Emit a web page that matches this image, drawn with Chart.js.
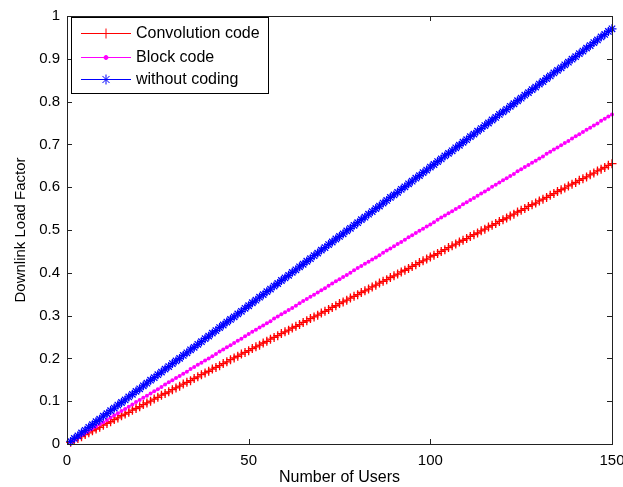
<!DOCTYPE html>
<html>
<head>
<meta charset="utf-8">
<script src="https://cdn.jsdelivr.net/npm/chart.js@4/dist/chart.umd.min.js"></script>
<style>
  body { margin: 0; background: #fff; }
  canvas { display: block; background: #fff; }
</style>
</head>
<body>
<canvas id="chart1" width="623" height="487"></canvas>
<script>
// number of users (x)
const users = [1,2,3,4,5,6,7,8,9,10,11,12,13,14,15,16,17,18,19,20,
  21,22,23,24,25,26,27,28,29,30,31,32,33,34,35,36,37,38,39,40,
  41,42,43,44,45,46,47,48,49,50,51,52,53,54,55,56,57,58,59,60,
  61,62,63,64,65,66,67,68,69,70,71,72,73,74,75,76,77,78,79,80,
  81,82,83,84,85,86,87,88,89,90,91,92,93,94,95,96,97,98,99,100,
  101,102,103,104,105,106,107,108,109,110,111,112,113,114,115,116,117,118,119,120,
  121,122,123,124,125,126,127,128,129,130,131,132,133,134,135,136,137,138,139,140,
  141,142,143,144,145,146,147,148,149,150];

// downlink load factor
const convolutionCode = [0.004,0.009,0.013,0.017,0.022,0.026,0.031,0.035,0.039,0.044,
  0.048,0.052,0.057,0.061,0.066,0.070,0.074,0.079,0.083,0.087,
  0.092,0.096,0.100,0.105,0.109,0.114,0.118,0.122,0.127,0.131,
  0.135,0.140,0.144,0.148,0.153,0.157,0.162,0.166,0.170,0.175,
  0.179,0.183,0.188,0.192,0.197,0.201,0.205,0.210,0.214,0.218,
  0.223,0.227,0.231,0.236,0.240,0.245,0.249,0.253,0.258,0.262,
  0.266,0.271,0.275,0.279,0.284,0.288,0.293,0.297,0.301,0.306,
  0.310,0.314,0.319,0.323,0.328,0.332,0.336,0.341,0.345,0.349,
  0.354,0.358,0.362,0.367,0.371,0.376,0.380,0.384,0.389,0.393,
  0.397,0.402,0.406,0.410,0.415,0.419,0.424,0.428,0.432,0.437,
  0.441,0.445,0.450,0.454,0.459,0.463,0.467,0.472,0.476,0.480,
  0.485,0.489,0.493,0.498,0.502,0.507,0.511,0.515,0.520,0.524,
  0.528,0.533,0.537,0.542,0.546,0.550,0.555,0.559,0.563,0.568,
  0.572,0.576,0.581,0.585,0.590,0.594,0.598,0.603,0.607,0.611,
  0.616,0.620,0.624,0.629,0.633,0.638,0.642,0.646,0.651,0.655];

const blockCode = [0.005,0.010,0.015,0.021,0.026,0.031,0.036,0.041,0.046,0.051,
  0.056,0.062,0.067,0.072,0.077,0.082,0.087,0.092,0.098,0.103,
  0.108,0.113,0.118,0.123,0.128,0.133,0.139,0.144,0.149,0.154,
  0.159,0.164,0.169,0.175,0.180,0.185,0.190,0.195,0.200,0.205,
  0.210,0.216,0.221,0.226,0.231,0.236,0.241,0.246,0.252,0.257,
  0.262,0.267,0.272,0.277,0.282,0.287,0.293,0.298,0.303,0.308,
  0.313,0.318,0.323,0.329,0.334,0.339,0.344,0.349,0.354,0.359,
  0.364,0.370,0.375,0.380,0.385,0.390,0.395,0.400,0.406,0.411,
  0.416,0.421,0.426,0.431,0.436,0.441,0.447,0.452,0.457,0.462,
  0.467,0.472,0.477,0.483,0.488,0.493,0.498,0.503,0.508,0.513,
  0.518,0.524,0.529,0.534,0.539,0.544,0.549,0.554,0.560,0.565,
  0.570,0.575,0.580,0.585,0.590,0.595,0.601,0.606,0.611,0.616,
  0.621,0.626,0.631,0.637,0.642,0.647,0.652,0.657,0.662,0.667,
  0.672,0.678,0.683,0.688,0.693,0.698,0.703,0.708,0.714,0.719,
  0.724,0.729,0.734,0.739,0.744,0.749,0.755,0.760,0.765,0.770];

const withoutCoding = [0.006,0.013,0.019,0.026,0.032,0.039,0.045,0.052,0.058,0.065,
  0.071,0.078,0.084,0.091,0.097,0.103,0.110,0.116,0.123,0.129,
  0.136,0.142,0.149,0.155,0.162,0.168,0.175,0.181,0.188,0.194,
  0.200,0.207,0.213,0.220,0.226,0.233,0.239,0.246,0.252,0.259,
  0.265,0.272,0.278,0.285,0.291,0.297,0.304,0.310,0.317,0.323,
  0.330,0.336,0.343,0.349,0.356,0.362,0.369,0.375,0.382,0.388,
  0.394,0.401,0.407,0.414,0.420,0.427,0.433,0.440,0.446,0.453,
  0.459,0.466,0.472,0.479,0.485,0.491,0.498,0.504,0.511,0.517,
  0.524,0.530,0.537,0.543,0.550,0.556,0.563,0.569,0.576,0.582,
  0.588,0.595,0.601,0.608,0.614,0.621,0.627,0.634,0.640,0.647,
  0.653,0.660,0.666,0.673,0.679,0.685,0.692,0.698,0.705,0.711,
  0.718,0.724,0.731,0.737,0.744,0.750,0.757,0.763,0.770,0.776,
  0.782,0.789,0.795,0.802,0.808,0.815,0.821,0.828,0.834,0.841,
  0.847,0.854,0.860,0.867,0.873,0.879,0.886,0.892,0.899,0.905,
  0.912,0.918,0.925,0.931,0.938,0.944,0.951,0.957,0.964,0.970];

const seriesNames = ['Convolution code', 'Block code', 'without coding'];

const FONT = 'Arial, "Liberation Sans", sans-serif';

// matlab style box with inward ticks on all four sides, plus the legend
const boxPlugin = {
  id: 'matlabBox',
  afterDraw(chart) {
    const ctx = chart.ctx;
    const a = chart.chartArea;
    const xs = chart.scales.x, ys = chart.scales.y;
    const t = 5;
    ctx.save();
    ctx.strokeStyle = '#222';
    ctx.lineWidth = 1;
    ctx.strokeRect(Math.round(a.left) + 0.5, Math.round(a.top) + 0.5,
      Math.round(a.right - a.left), Math.round(a.bottom - a.top));
    ctx.beginPath();
    xs.ticks.forEach(tk => {
      const px = Math.round(xs.getPixelForValue(tk.value)) + 0.5;
      ctx.moveTo(px, a.bottom); ctx.lineTo(px, a.bottom - t);
      ctx.moveTo(px, a.top); ctx.lineTo(px, a.top + t);
    });
    ys.ticks.forEach(tk => {
      const py = Math.round(ys.getPixelForValue(tk.value)) + 0.5;
      ctx.moveTo(a.left, py); ctx.lineTo(a.left + t, py);
      ctx.moveTo(a.right, py); ctx.lineTo(a.right - t, py);
    });
    ctx.stroke();

    // legend
    const lx = 71, ly = 17, lw = 197, lh = 76;
    ctx.fillStyle = '#fff';
    ctx.fillRect(lx, ly, lw, lh);
    ctx.strokeStyle = '#000';
    ctx.strokeRect(lx + 0.5, ly + 0.5, lw, lh);
    const rows = [33, 57, 79];
    chart.data.datasets.forEach((ds, i) => {
      const y = rows[i] + 0.5;
      ctx.strokeStyle = ds.borderColor;
      ctx.fillStyle = ds.borderColor;
      ctx.lineWidth = 1;
      ctx.beginPath();
      ctx.moveTo(81, y); ctx.lineTo(131, y);
      ctx.stroke();
      Chart.helpers.drawPoint(ctx, {
        pointStyle: ds.pointStyle,
        radius: ds.pointStyle === 'circle' ? 2 : 5,
        borderWidth: 1.2
      }, 106, y);
      ctx.fillStyle = '#000';
      ctx.font = '16px ' + FONT;
      ctx.textBaseline = 'middle';
      ctx.textAlign = 'left';
      ctx.fillText(ds.label, 136, y);
    });
    ctx.restore();
  }
};

const datasets = [
  { label: seriesNames[0], data: convolutionCode, borderColor: '#ff0000', backgroundColor: '#ff0000',
    pointStyle: 'cross', pointRadius: 4.5, pointBorderWidth: 1.3, order: 3 },
  { label: seriesNames[1], data: blockCode, borderColor: '#ff00ff', backgroundColor: '#ff00ff',
    pointStyle: 'circle', pointRadius: 2, pointBorderWidth: 0, order: 2 },
  { label: seriesNames[2], data: withoutCoding, borderColor: '#0000ff', backgroundColor: '#0000ff',
    pointStyle: 'star', pointRadius: 4.5, pointBorderWidth: 1.3, order: 1 }
];
datasets.forEach(d => { d.borderWidth = 1; d.fill = false; d.tension = 0; d.clip = false; });

new Chart(document.getElementById('chart1'), {
  type: 'line',
  data: { labels: users, datasets: datasets },
  options: {
    responsive: false,
    animation: false,
    devicePixelRatio: 1,
    layout: { padding: { left: 0, right: 11, top: 16, bottom: 0 } },
    plugins: { legend: { display: false }, tooltip: { enabled: false } },
    scales: {
      x: {
        type: 'linear', min: 0, max: 150,
        ticks: { stepSize: 50, color: '#000', padding: 8, font: { family: FONT, size: 15 }, maxRotation: 0 },
        grid: { display: false, drawTicks: false },
        border: { display: false },
        title: { display: true, text: 'Number of Users', color: '#000',
          font: { family: FONT, size: 16 }, padding: { top: 0, bottom: 0 } },
        afterFit: s => { s.height = 43; s.paddingLeft = 0; s.paddingRight = 0; }
      },
      y: {
        min: 0, max: 1,
        ticks: { stepSize: 0.1, color: '#000', padding: 7, font: { family: FONT, size: 15 },
          callback: v => String(Math.round(v * 10) / 10) },
        grid: { display: false, drawTicks: false },
        border: { display: false },
        title: { display: true, text: 'Downlink Load Factor', color: '#000',
          font: { family: FONT, size: 15 }, padding: { top: 12, bottom: 0 } },
        afterFit: s => { s.width = 67; s.paddingTop = 0; s.paddingBottom = 0; }
      }
    }
  },
  plugins: [boxPlugin]
});
</script>
</body>
</html>
